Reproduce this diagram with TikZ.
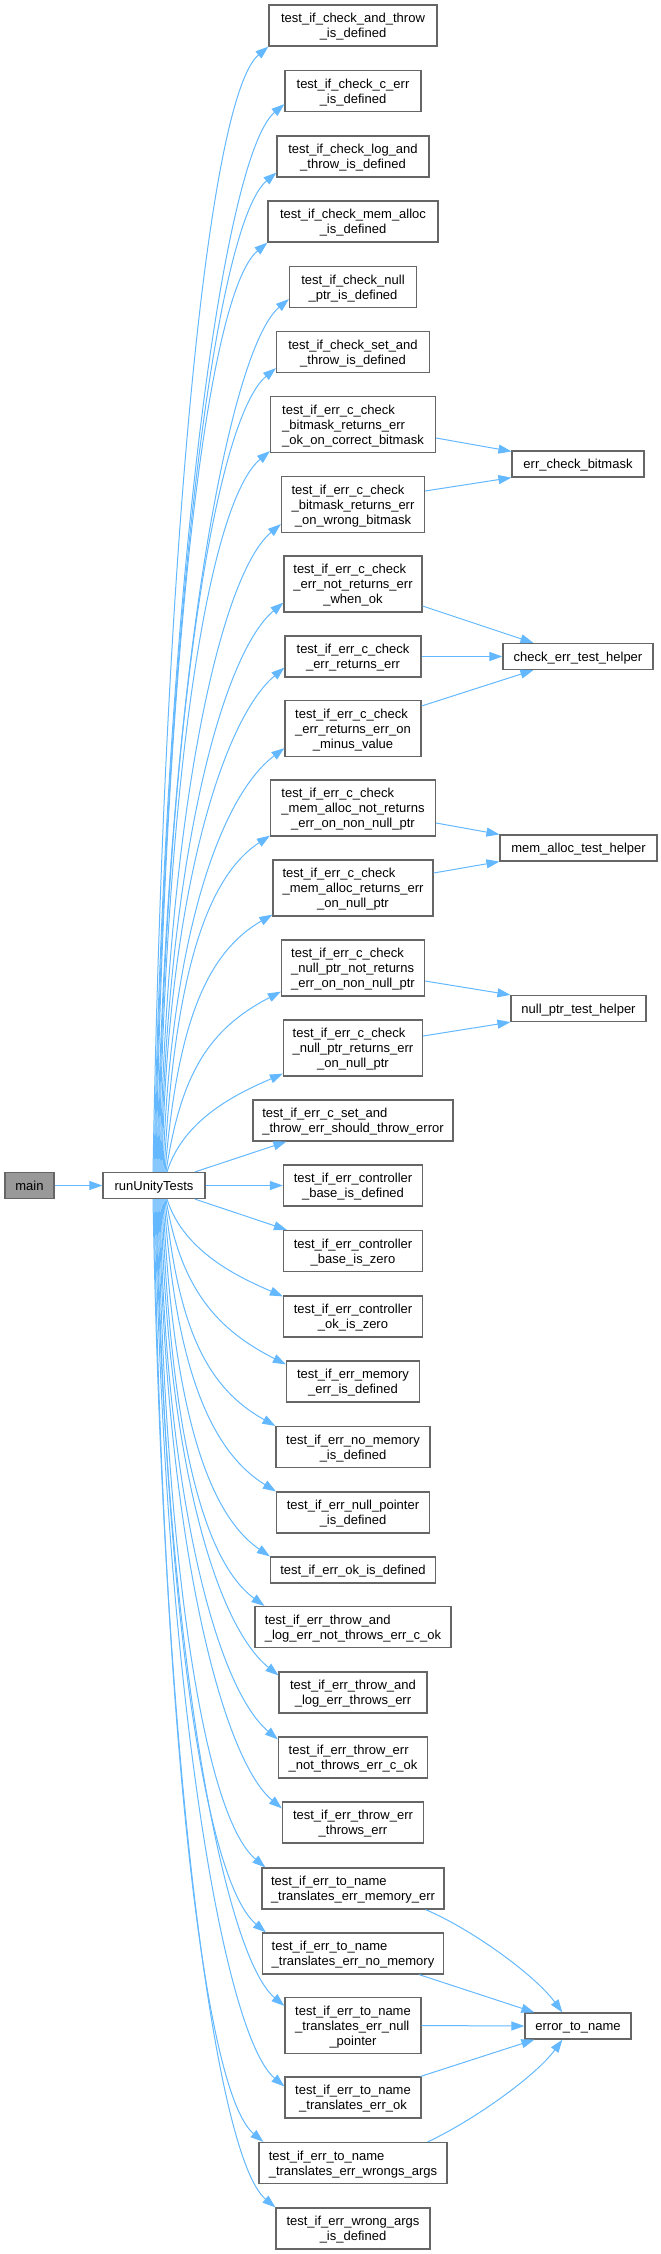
\documentclass[tikz,border=0pt]{standalone}
\usepackage{fontspec}
\setmainfont{Liberation Sans}
\usetikzlibrary{arrows.meta}
\definecolor{edgeblue}{HTML}{63B8FF}
\definecolor{boxgray}{HTML}{666666}
\definecolor{mainfill}{HTML}{999999}
\newcommand\onel[1]{\rule[-4.5pt]{0pt}{18pt}#1}
\newcommand\twol[2]{\begin{tabular}{@{}l@{}}\rule{0pt}{13.5pt}#1\\\multicolumn{1}{@{}c@{}}{#2}\end{tabular}}
\newcommand\threel[3]{\begin{tabular}{@{}l@{}}\rule{0pt}{13.5pt}#1\\#2\\\multicolumn{1}{@{}c@{}}{#3}\end{tabular}}
\begin{document}
\begin{tikzpicture}[x=1pt,y=-1pt,
  fnbox/.style={draw=boxgray, line width=1.2pt, fill=white, inner xsep=2pt, inner ysep=0pt,
    font=\fontsize{13}{15}\selectfont},
  fa/.style={fnbox, minimum height=26pt},
  fb/.style={fnbox, minimum height=41pt},
  fc/.style={fnbox, minimum height=56pt},
  callarrow/.style={draw=edgeblue, line width=1pt, -{Triangle[length=13pt,width=9pt]}}]
\useasboundingbox (0,0) rectangle (661,2254);

% left nodes
\node[fa, minimum width=49pt, fill=mainfill] (main) at (29.5,1185.5) {\onel{main}};
\node[fa, minimum width=102pt] (run) at (154,1185.5) {\onel{runUnityTests}};

% test nodes
\node[fb, minimum width=168pt] (n1) at (353,25.5) {\twol{test\_if\_check\_and\_throw}{\_is\_defined}};
\node[fb, minimum width=136pt] (n2) at (353,91) {\twol{test\_if\_check\_c\_err}{\_is\_defined}};
\node[fb, minimum width=152pt] (n3) at (353,156.5) {\twol{test\_if\_check\_log\_and}{\_throw\_is\_defined}};
\node[fb, minimum width=170pt] (n4) at (353,221.5) {\twol{test\_if\_check\_mem\_alloc}{\_is\_defined}};
\node[fb, minimum width=127pt] (n5) at (353,287) {\twol{test\_if\_check\_null}{\_ptr\_is\_defined}};
\node[fb, minimum width=153pt] (n6) at (353,352) {\twol{test\_if\_check\_set\_and}{\_throw\_is\_defined}};
\node[fc, minimum width=165pt] (n7) at (353,424.5) {\threel{test\_if\_err\_c\_check}{\_bitmask\_returns\_err}{\_ok\_on\_correct\_bitmask}};
\node[fc, minimum width=143pt] (n8) at (353,504.5) {\threel{test\_if\_err\_c\_check}{\_bitmask\_returns\_err}{\_on\_wrong\_bitmask}};
\node[fc, minimum width=138pt] (n9) at (353,584) {\threel{test\_if\_err\_c\_check}{\_err\_not\_returns\_err}{\_when\_ok}};
\node[fb, minimum width=136pt] (n10) at (353,656.5) {\twol{test\_if\_err\_c\_check}{\_err\_returns\_err}};
\node[fc, minimum width=136pt] (n11) at (353,728.5) {\threel{test\_if\_err\_c\_check}{\_err\_returns\_err\_on}{\_minus\_value}};
\node[fc, minimum width=165pt] (n12) at (353,808) {\threel{test\_if\_err\_c\_check}{\_mem\_alloc\_not\_returns}{\_err\_on\_non\_null\_ptr}};
\node[fc, minimum width=160pt] (n13) at (353,888) {\threel{test\_if\_err\_c\_check}{\_mem\_alloc\_returns\_err}{\_on\_null\_ptr}};
\node[fc, minimum width=143pt] (n14) at (353,968) {\threel{test\_if\_err\_c\_check}{\_null\_ptr\_not\_returns}{\_err\_on\_non\_null\_ptr}};
\node[fc, minimum width=139pt] (n15) at (353,1048) {\threel{test\_if\_err\_c\_check}{\_null\_ptr\_returns\_err}{\_on\_null\_ptr}};
\node[fb, minimum width=200pt] (n16) at (353,1120.5) {\twol{test\_if\_err\_c\_set\_and}{\_throw\_err\_should\_throw\_error}};
\node[fb, minimum width=139pt] (n17) at (353,1185.5) {\twol{test\_if\_err\_controller}{\_base\_is\_defined}};
\node[fb, minimum width=139pt] (n18) at (353,1251) {\twol{test\_if\_err\_controller}{\_base\_is\_zero}};
\node[fb, minimum width=139pt] (n19) at (353,1316.5) {\twol{test\_if\_err\_controller}{\_ok\_is\_zero}};
\node[fb, minimum width=133pt] (n20) at (353,1381.5) {\twol{test\_if\_err\_memory}{\_err\_is\_defined}};
\node[fb, minimum width=154pt] (n21) at (353,1447) {\twol{test\_if\_err\_no\_memory}{\_is\_defined}};
\node[fb, minimum width=153pt] (n22) at (353,1512.5) {\twol{test\_if\_err\_null\_pointer}{\_is\_defined}};
\node[fa, minimum width=165pt] (n23) at (353,1570) {\onel{test\_if\_err\_ok\_is\_defined}};
\node[fb, minimum width=196pt] (n24) at (353,1627) {\twol{test\_if\_err\_throw\_and}{\_log\_err\_not\_throws\_err\_c\_ok}};
\node[fb, minimum width=148pt] (n25) at (353,1692.5) {\twol{test\_if\_err\_throw\_and}{\_log\_err\_throws\_err}};
\node[fb, minimum width=149pt] (n26) at (353,1757.5) {\twol{test\_if\_err\_throw\_err}{\_not\_throws\_err\_c\_ok}};
\node[fb, minimum width=141pt] (n27) at (353,1822.5) {\twol{test\_if\_err\_throw\_err}{\_throws\_err}};
\node[fb, minimum width=182pt] (n28) at (353,1888.5) {\twol{test\_if\_err\_to\_name}{\_translates\_err\_memory\_err}};
\node[fb, minimum width=181pt] (n29) at (353,1953.5) {\twol{test\_if\_err\_to\_name}{\_translates\_err\_no\_memory}};
\node[fc, minimum width=136pt] (n30) at (353,2025.5) {\threel{test\_if\_err\_to\_name}{\_translates\_err\_null}{\_pointer}};
\node[fb, minimum width=136pt] (n31) at (353,2097.5) {\twol{test\_if\_err\_to\_name}{\_translates\_err\_ok}};
\node[fb, minimum width=188pt] (n32) at (353,2163) {\twol{test\_if\_err\_to\_name}{\_translates\_err\_wrongs\_args}};
\node[fb, minimum width=154pt] (n33) at (353,2228.5) {\twol{test\_if\_err\_wrong\_args}{\_is\_defined}};

% helper nodes
\node[fa, minimum width=132pt] (ecb) at (578,464) {\onel{err\_check\_bitmask}};
\node[fa, minimum width=150pt] (cet) at (578,656.5) {\onel{check\_err\_test\_helper}};
\node[fa, minimum width=157pt] (mat) at (578.5,848) {\onel{mem\_alloc\_test\_helper}};
\node[fa, minimum width=135pt] (npt) at (578.5,1008.5) {\onel{null\_ptr\_test\_helper}};
\node[fa, minimum width=106pt] (etn) at (578,2026) {\onel{error\_to\_name}};

% main -> runUnityTests
\draw[callarrow] (main.east) -- (run.west);

% upward edges
\draw[callarrow] ([xshift=-1pt]run.north) .. controls +(11,-619) and +(-61,51) .. (n1.south west);
\draw[callarrow] ([xshift=0pt]run.north) .. controls +(11,-589) and +(-61,51) .. ([yshift=8pt]n2.south west);
\draw[callarrow] ([xshift=1pt]run.north) .. controls +(10,-551) and +(-61,51) .. ([yshift=5pt]n3.south west);
\draw[callarrow] ([xshift=2pt]run.north) .. controls +(9,-512) and +(-61,51) .. (n4.south west);
\draw[callarrow] ([xshift=3pt]run.north) .. controls +(9,-481) and +(-61,51) .. ([yshift=9pt]n5.south west);
\draw[callarrow] ([xshift=4pt]run.north) .. controls +(8,-443) and +(-61,51) .. ([yshift=5pt]n6.south west);
\draw[callarrow] ([xshift=5pt]run.north) .. controls +(7,-398) and +(-61,51) .. ([yshift=2pt]n7.south west);
\draw[callarrow] ([xshift=6pt]run.north) .. controls +(7,-358) and +(-61,51) .. ([yshift=9pt]n8.south west);
\draw[callarrow] ([xshift=7pt]run.north) .. controls +(6,-314) and +(-61,51) .. ([yshift=10pt]n9.south west);
\draw[callarrow] ([xshift=8pt]run.north) .. controls +(5,-278) and +(-61,51) .. ([yshift=10pt]n10.south west);
\draw[callarrow] ([xshift=9pt]run.north) .. controls +(7,-234) and +(-64,48) .. ([yshift=9pt]n11.south west);
\draw[callarrow] ([xshift=10pt]run.north) .. controls +(10,-186) and +(-67,44) .. ([yshift=1pt]n12.south west);
\draw[callarrow] ([xshift=11pt]run.north) .. controls +(12,-142) and +(-69,40) .. ([yshift=2pt]n13.south west);
\draw[callarrow] ([xshift=12pt]run.north) .. controls +(15,-100) and +(-71,37) .. ([yshift=5pt]n14.south west);
\draw[callarrow] ([xshift=13pt]run.north) .. controls +(17,-55) and +(-41,18) .. ([yshift=3pt]n15.south west);
\draw[callarrow] ([xshift=41pt]run.north) -- ([xshift=34pt]n16.south west);
\draw[callarrow] (run.east) -- (n17.west);
\draw[callarrow] ([xshift=41pt]run.south) -- ([xshift=4pt]n18.north west);

% downward edges
\draw[callarrow] ([xshift=13pt]run.south) .. controls +(17,54) and +(-41,-18) .. ([yshift=-1pt]n19.north west);
\draw[callarrow] ([xshift=12pt]run.south) .. controls +(15,92) and +(-67,-34) .. ([yshift=-4pt]n20.north west);
\draw[callarrow] ([xshift=11pt]run.south) .. controls +(13,127) and +(-70,-39) .. (n21.north west);
\draw[callarrow] ([xshift=10pt]run.south) .. controls +(11,162) and +(-68,-42) .. (n22.north west);
\draw[callarrow] ([xshift=9pt]run.south) .. controls +(9,196) and +(-66,-45) .. (n23.north west);
\draw[callarrow] ([xshift=8pt]run.south) .. controls +(8,224) and +(-64,-47) .. ([xshift=10pt]n24.north west);
\draw[callarrow] ([xshift=7pt]run.south) .. controls +(6,263) and +(-62,-50) .. ([yshift=-4pt]n25.north west);
\draw[callarrow] ([xshift=6pt]run.south) .. controls +(5,298) and +(-61,-51) .. ([yshift=-3pt]n26.north west);
\draw[callarrow] ([xshift=5pt]run.south) .. controls +(6,336) and +(-61,-51) .. ([yshift=-7pt]n27.north west);
\draw[callarrow] ([xshift=4pt]run.south) .. controls +(7,368) and +(-61,-51) .. ([xshift=4pt]n28.north west);
\draw[callarrow] ([xshift=3pt]run.south) .. controls +(7,404) and +(-61,-51) .. ([xshift=4pt]n29.north west);
\draw[callarrow] ([xshift=2pt]run.south) .. controls +(8,445) and +(-61,-51) .. ([yshift=-9pt]n30.north west);
\draw[callarrow] ([xshift=1pt]run.south) .. controls +(9,489) and +(-61,-51) .. ([yshift=-10pt]n31.north west);
\draw[callarrow] ([xshift=0pt]run.south) .. controls +(9,519) and +(-61,-51) .. ([xshift=5pt]n32.north west);
\draw[callarrow] ([xshift=-1pt]run.south) .. controls +(10,557) and +(-61,-51) .. (n33.north west);

% edges to helpers
\draw[callarrow] ([yshift=-13.5pt]n7.east) -- ([yshift=-1pt]ecb.north west);
\draw[callarrow] ([yshift=13.5pt]n8.east) -- (ecb.south west);
\draw[callarrow] ([yshift=-22pt]n9.east) -- ([xshift=31pt]cet.north west);
\draw[callarrow] (n10.east) -- (cet.west);
\draw[callarrow] ([yshift=22.5pt]n11.east) -- ([xshift=31pt]cet.south west);
\draw[callarrow] ([yshift=-15pt]n12.east) -- (mat.north west);
\draw[callarrow] ([yshift=15pt]n13.east) -- (mat.south west);
\draw[callarrow] ([yshift=-13pt]n14.east) -- (npt.north west);
\draw[callarrow] ([yshift=12pt]n15.east) -- (npt.south west);
\draw[callarrow] ([xshift=-19pt]n28.south east) .. controls +(45,19) and +(-28,-38) .. ([xshift=38pt]etn.north west);
\draw[callarrow] ([xshift=-25pt]n29.south east) -- ([xshift=10pt]etn.north west);
\draw[callarrow] (n30.east) -- (etn.west);
\draw[callarrow] ([xshift=-1pt]n31.north east) -- ([xshift=10pt]etn.south west);
\draw[callarrow] ([xshift=-20pt]n32.north east) .. controls +(43,-20) and +(-28,38) .. ([xshift=38pt]etn.south west);
\end{tikzpicture}
\end{document}
